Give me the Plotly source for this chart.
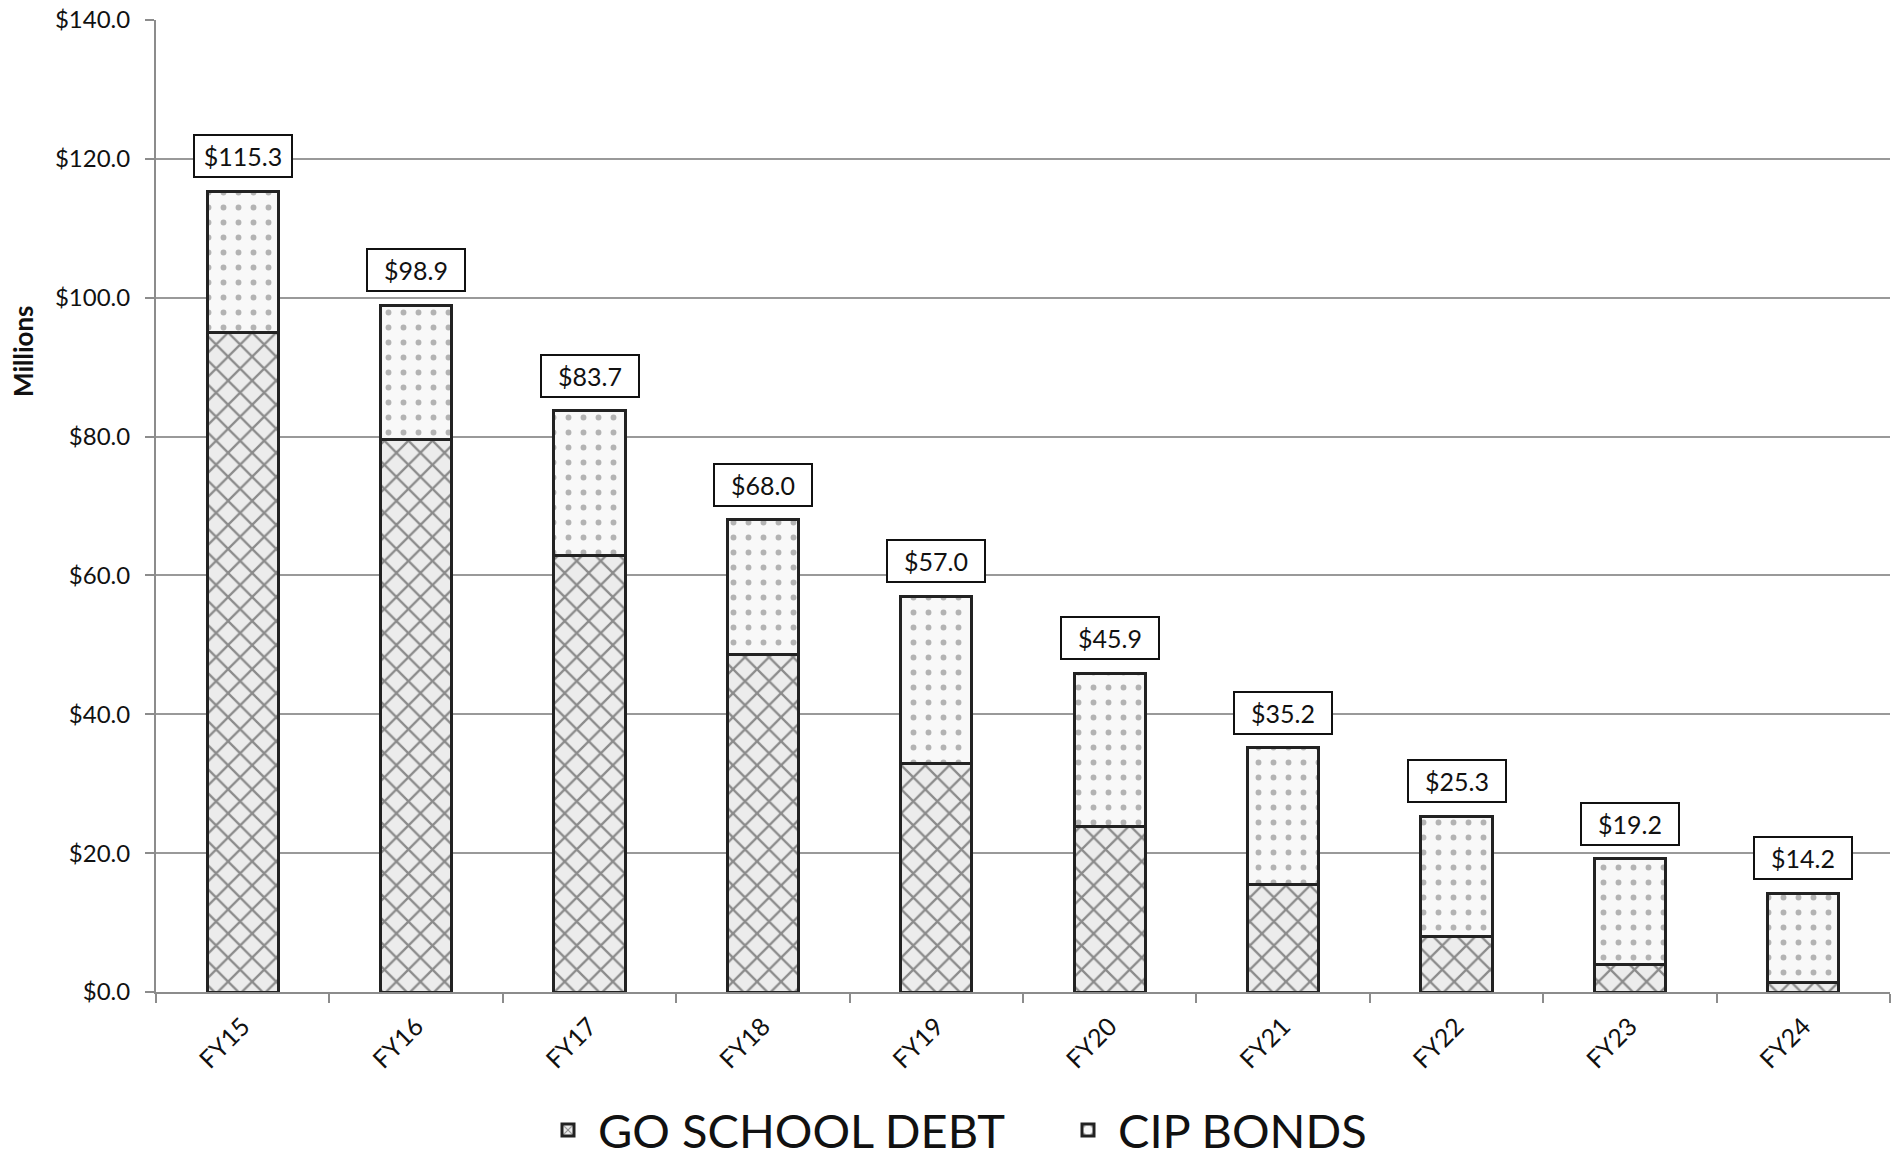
import plotly.graph_objects as go

categories = ["FY15", "FY16", "FY17", "FY18", "FY19", "FY20", "FY21", "FY22", "FY23", "FY24"]
totals = [115.3, 98.9, 83.7, 68.0, 57.0, 45.9, 35.2, 25.3, 19.2, 14.2]
go_school_debt = [95.0, 79.6, 62.9, 48.6, 32.9, 23.9, 15.5, 8.0, 4.0, 1.4]
cip_bonds = [round(t - g, 1) for t, g in zip(totals, go_school_debt)]
total_labels = ["$%.1f" % t for t in totals]
y_ticks = [0, 20, 40, 60, 80, 100, 120, 140]
y_tick_labels = ["$%.1f" % v for v in y_ticks]

FONT = "Lato"

fig = go.Figure()
fig.add_trace(go.Bar(
    x=categories, y=go_school_debt, name="GO SCHOOL DEBT",
    width=0.41,
    marker=dict(
        color="#eeeeee",
        line=dict(color="#222222", width=3),
        pattern=dict(shape="x", fgcolor="#2a2a2a", bgcolor="#ececec", size=17, solidity=0.25),
    ),
    hoverinfo="skip",
))
fig.add_trace(go.Bar(
    x=categories, y=cip_bonds, name="CIP BONDS",
    width=0.41,
    marker=dict(
        color="#f7f7f7",
        line=dict(color="#222222", width=3),
        pattern=dict(shape=".", fgcolor="#6e6e6e", bgcolor="#f8f8f8", size=15, solidity=0.12),
    ),
    hoverinfo="skip",
))

for c, t, lab in zip(categories, totals, total_labels):
    fig.add_annotation(
        x=c, y=t, text=lab, showarrow=False,
        xref="x", yref="y", yanchor="bottom", yshift=13,
        font=dict(family=FONT, size=25, color="#111111"),
        bgcolor="white", bordercolor="#111111", borderwidth=2, borderpad=5,
        width=86,
    )

fig.add_annotation(
    text="<b>Millions</b>", textangle=-90, showarrow=False,
    xref="paper", yref="paper", x=(23 - 156) / 1734, y=(992 - 351) / 972,
    xanchor="center", yanchor="middle",
    font=dict(family=FONT, size=26, color="#111111"),
)

fig.update_layout(
    width=1896, height=1157,
    barmode="stack",
    paper_bgcolor="white", plot_bgcolor="white",
    margin=dict(l=156, r=6, t=20, b=165, autoexpand=False),
    showlegend=True,
    legend=dict(
        orientation="h", x=(538 - 156) / 1734, xanchor="left",
        y=(992 - 1168) / 972, yanchor="bottom",
        font=dict(family=FONT, size=47, color="#111111"),
        traceorder="normal",
        itemwidth=50,
        entrywidth=455, entrywidthmode="pixels",
    ),
    font=dict(family=FONT, color="#222222"),
)
fig.update_xaxes(
    type="category", tickson="boundaries", ticks="outside", ticklen=9, tickwidth=2,
    tickcolor="#8c8c8c", showline=True, linecolor="#8c8c8c", linewidth=2,
    tickangle=-45, tickfont=dict(family=FONT, size=25, color="#111111"),
    ticklabelstandoff=8,
    showgrid=False, range=[-0.5, 9.5],
)
fig.update_yaxes(
    range=[0, 140], tickvals=y_ticks, ticktext=y_tick_labels,
    ticks="outside", ticklen=9, tickwidth=2, tickcolor="#8c8c8c",
    showline=True, linecolor="#8c8c8c", linewidth=2,
    showgrid=True, gridcolor="#999999", gridwidth=2,
    tickfont=dict(family=FONT, size=24, color="#111111"),
    ticklabelstandoff=10, zeroline=False,
)

fig.write_html("out.html")
